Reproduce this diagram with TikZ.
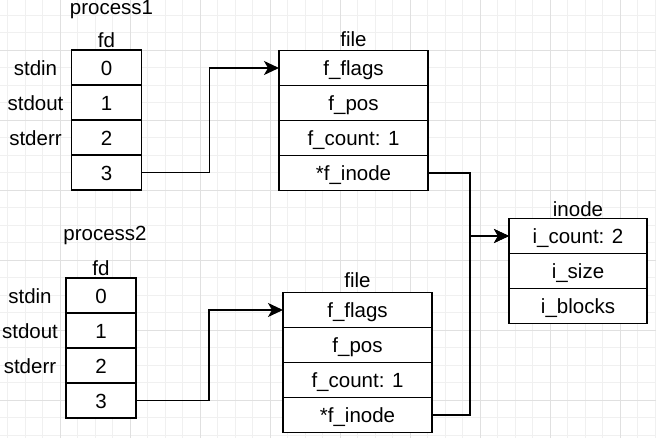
\documentclass[tikz,border=0pt]{standalone}
\usepackage{fontspec}
\setmainfont{Liberation Sans}
\usetikzlibrary{arrows.meta, positioning}

\begin{document}
\begin{tikzpicture}[
    x=1pt, y=-1pt,
    node distance=0pt,
    every node/.style={font=\fontsize{20.5pt}{24pt}\selectfont},
    cell/.style={rectangle, draw=black, line width=1.75pt, fill=white, outer sep=0pt, inner sep=0pt, text height=15.5pt, text depth=0pt, minimum height=35pt},
    fdcell/.style={cell, minimum width=70pt},
    filecell/.style={cell, minimum width=149pt},
    inodecell/.style={cell, minimum width=138pt},
    tag/.style={inner sep=0pt, text height=15.5pt, text depth=0pt},
    title/.style={inner sep=0pt, anchor=base},
    arrow/.style={-{Stealth[length=15pt, width=14pt, inset=4pt]}, line width=1.75pt, draw=black},
    minorgrid/.style={draw=black!6, line width=0.8pt},
    majorgrid/.style={draw=black!12, line width=0.9pt}
]
\useasboundingbox (0,0) rectangle (656,438);
\fill[white] (0,0) rectangle (656,438);

% 背景网格
\foreach \x in {7.5,25,...,656} \draw[minorgrid] (\x,0) -- (\x,438);
\foreach \y in {15,32.5,...,438} \draw[minorgrid] (0,\y) -- (656,\y);
\foreach \x in {60,130,...,656} \draw[majorgrid] (\x,0) -- (\x,438);
\foreach \y in {50,120,...,438} \draw[majorgrid] (0,\y) -- (656,\y);

% process1 fd
\node[fdcell] (fd1-0) at (106.5,67.5) {0};
\node[fdcell, below=of fd1-0] (fd1-1) {1};
\node[fdcell, below=of fd1-1] (fd1-2) {2};
\node[fdcell, below=of fd1-2] (fd1-3) {3};
\node[tag] at ([xshift=-36pt]fd1-0.west) {stdin};
\node[tag] at ([xshift=-36pt]fd1-1.west) {stdout};
\node[tag] at ([xshift=-36pt]fd1-2.west) {stderr};
\node[title] (fd1-title) at ([yshift=2pt]fd1-0.north) {fd};
\node[title] (proc1) at ([xshift=5pt, yshift=35pt]fd1-0.north) {process1};

% process1 file
\node[filecell] (file1-0) at (353.5,68) {f\_flags};
\node[filecell, below=of file1-0] (file1-1) {f\_pos};
\node[filecell, below=of file1-1] (file1-2) {f\_count: 1};
\node[filecell, below=of file1-2] (file1-3) {*f\_inode};
\node[title] (file1-title) at ([yshift=4pt]file1-0.north) {file};

% inode
\node[inodecell] (inode-0) at (578,236) {i\_count: 2};
\node[inodecell, below=of inode-0] (inode-1) {i\_size};
\node[inodecell, below=of inode-1] (inode-2) {i\_blocks};
\node[title] (inode-title) at ([yshift=2pt]inode-0.north) {inode};

% process2 fd
\node[fdcell] (fd2-0) at (101,295.5) {0};
\node[fdcell, below=of fd2-0] (fd2-1) {1};
\node[fdcell, below=of fd2-1] (fd2-2) {2};
\node[fdcell, below=of fd2-2] (fd2-3) {3};
\node[tag] at ([xshift=-36pt]fd2-0.west) {stdin};
\node[tag] at ([xshift=-36pt]fd2-1.west) {stdout};
\node[tag] at ([xshift=-36pt]fd2-2.west) {stderr};
\node[title] (fd2-title) at ([yshift=2pt]fd2-0.north) {fd};
\node[title] (proc2) at ([xshift=4pt, yshift=37pt]fd2-0.north) {process2};

% process2 file
\node[filecell] (file2-0) at (357.5,310) {f\_flags};
\node[filecell, below=of file2-0] (file2-1) {f\_pos};
\node[filecell, below=of file2-1] (file2-2) {f\_count: 1};
\node[filecell, below=of file2-2] (file2-3) {*f\_inode};
\node[title] (file2-title) at ([yshift=5pt]file2-0.north) {file};

% 连接箭头
\coordinate (join) at (470,236);
\draw[arrow] (fd1-3.east) -- ++(68,0) |- (file1-0.west);
\draw[arrow] (fd2-3.east) -- ++(73,0) |- (file2-0.west);
\draw[arrow] (file1-3.east) -| (join) -- (inode-0.west);
\draw[arrow] (file2-3.east) -| (join) -- (inode-0.west);
\end{tikzpicture}
\end{document}
